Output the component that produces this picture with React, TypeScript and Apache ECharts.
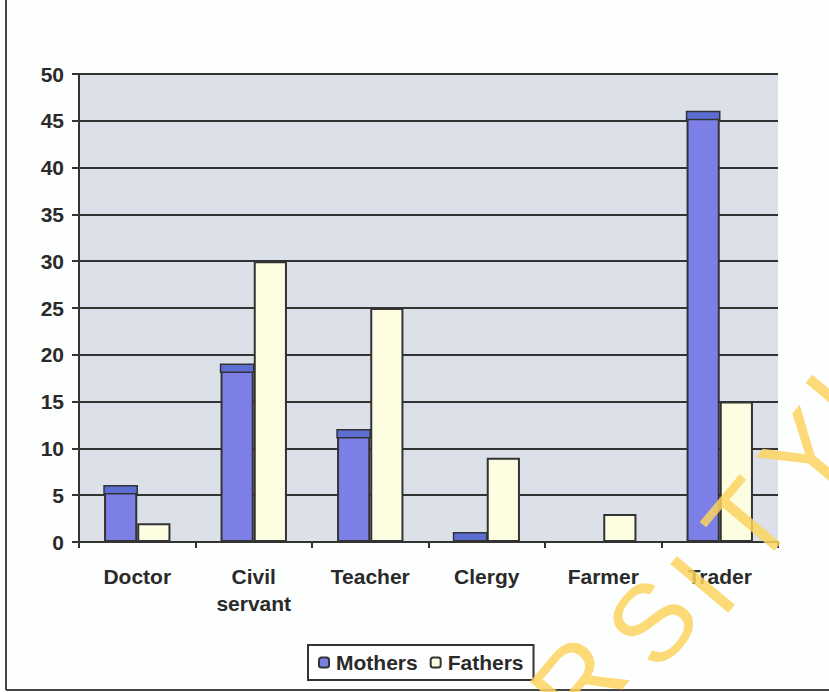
import React, { useEffect, useRef } from "react";
import * as echarts from "echarts";

const categories = ["Doctor", "Civil\nservant", "Teacher", "Clergy", "Farmer", "Trader"];
const mothers = [6, 19, 12, 1, 0, 46];
const fathers = [2, 30, 25, 9, 3, 15];
const yTicks = { min: 0, max: 50, interval: 5 };
const watermarkLetters = ["R", "S", "I", "T", "Y", "L"];
const watermarkPos = [
  [578, 682],
  [652, 622],
  [702, 584],
  [748, 522],
  [806, 455],
  [848, 390],
];

const BAR_RATIO = 0.285;

export default function App() {
  const ref = useRef<HTMLDivElement>(null);
  useEffect(() => {
    if (!ref.current) return;
    const chart = echarts.init(ref.current, null, { renderer: "svg" });
    const font = "Arial, 'Liberation Sans', sans-serif";
    const txt = { fontSize: 21, fontWeight: "bold", color: "#2a2a2a", fontFamily: font };
    chart.setOption({
      animation: false,
      backgroundColor: "#fdfefe",
      textStyle: { fontFamily: font },
      grid: {
        left: 79,
        right: 51,
        top: 74,
        bottom: 150,
        show: true,
        backgroundColor: "#dce1e9",
        borderWidth: 0,
      },
      legend: {
        left: 308,
        top: 645,
        data: ["Mothers", "Fathers"],
        itemWidth: 10,
        itemHeight: 10,
        itemGap: 12,
        padding: [7, 10, 7, 10],
        borderColor: "#333",
        borderWidth: 2,
        backgroundColor: "#ffffff",
        textStyle: { ...txt, padding: [0, 0, 0, 2] },
      },
      xAxis: {
        type: "category",
        data: categories,
        axisLine: { lineStyle: { color: "#333", width: 2 } },
        axisTick: { show: true, length: 6, interval: 0, lineStyle: { color: "#333", width: 2 } },
        axisLabel: { ...txt, margin: 21, lineHeight: 27, interval: 0 },
        splitLine: { show: false },
      },
      yAxis: {
        type: "value",
        min: yTicks.min,
        max: yTicks.max,
        interval: yTicks.interval,
        axisLine: { show: true, lineStyle: { color: "#333", width: 2 } },
        axisTick: { show: true, length: 7, lineStyle: { color: "#333", width: 2 } },
        axisLabel: { ...txt, margin: 15 },
        splitLine: { show: true, lineStyle: { color: "#333", width: 2 } },
      },
      series: [
        {
          name: "Mothers",
          type: "bar",
          data: mothers,
          barWidth: BAR_RATIO * 100 + "%",
          barGap: "0%",
          itemStyle: { color: "#7b7fe6", borderColor: "#333", borderWidth: 2 },
          z: 2,
        },
        {
          name: "Fathers",
          type: "bar",
          data: fathers,
          barWidth: BAR_RATIO * 100 + "%",
          barGap: "0%",
          itemStyle: { color: "#fdfde2", borderColor: "#333", borderWidth: 2 },
          z: 2,
        },
        {
          name: "cap",
          type: "custom",
          data: mothers.map((v, i) => [i, v]),
          z: 3,
          silent: true,
          renderItem: (params: any, api: any) => {
            const i = api.value(0);
            const v = api.value(1);
            if (!(v > 0)) return null;
            const top = api.coord([i, v]);
            const bottom = api.coord([i, 0]);
            const bw = api.size([1, 0])[0] * BAR_RATIO;
            const h = Math.min(8, bottom[1] - top[1]);
            return {
              type: "rect",
              shape: { x: top[0] - bw, y: top[1], width: bw, height: h },
              style: { fill: "#5b6ed2", stroke: "#333", lineWidth: 1.5 },
            };
          },
        },
      ],
      graphic: [
        {
          type: "line",
          shape: { x1: 6, y1: 0, x2: 6, y2: 690 },
          style: { stroke: "#444", lineWidth: 2 },
          z: 10,
        },
        {
          type: "line",
          shape: { x1: 6, y1: 690, x2: 829, y2: 690 },
          style: { stroke: "#444", lineWidth: 2 },
          z: 10,
        },
        ...watermarkLetters.map((ch, k) => ({
          type: "text",
          x: watermarkPos[k][0],
          y: watermarkPos[k][1],
          rotation: (50 * Math.PI) / 180,
          z: 20,
          silent: true,
          style: {
            text: ch,
            fontSize: 110,
            fontWeight: "normal",
            fontFamily: font,
            fill: "rgba(252, 212, 95, 0.85)",
            align: "center",
            verticalAlign: "middle",
          },
        })),
      ],
    });
    return () => chart.dispose();
  }, []);
  return (
    <div
      ref={ref}
      style={{ position: "fixed", left: 0, top: 0, width: 829, height: 692 }}
    />
  );
}
